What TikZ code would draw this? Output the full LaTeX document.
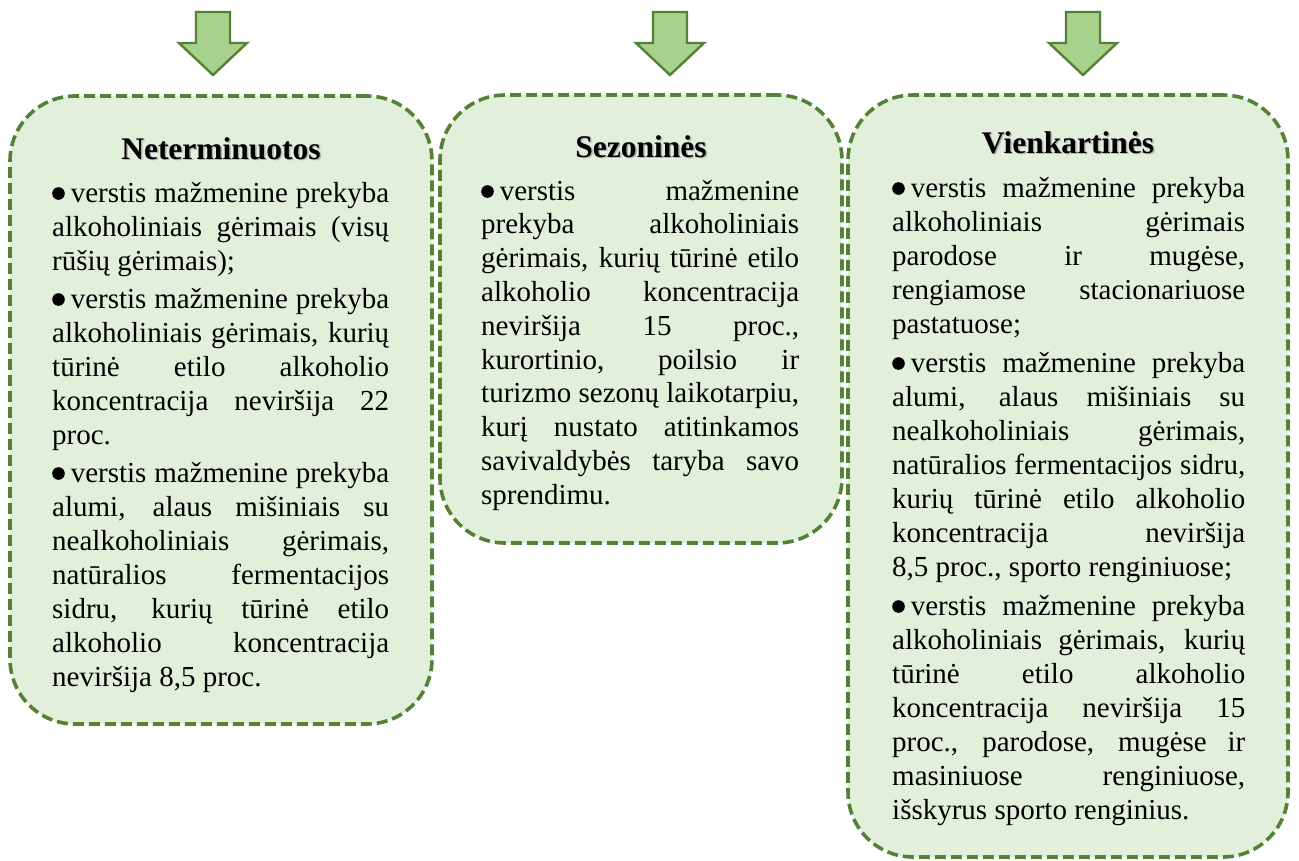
\documentclass[tikz,border=0pt]{standalone}
\usepackage{fontspec}
\setmainfont{Liberation Serif}
\definecolor{boxfill}{HTML}{E2EFDA}
\definecolor{boxline}{HTML}{548235}
\definecolor{arrowfill}{HTML}{A9D18E}
\newcommand\bul{\tikz[baseline=0pt]\fill[black] (6.5pt,8.5pt) circle (6.3pt);\hspace{6pt}}
\newcommand\jl[1]{\makebox[\linewidth][s]{#1}\par}
\tikzset{
  greenbox/.style={rectangle, draw=boxline, fill=boxfill, line width=3.6pt,
    dash pattern=on 11pt off 5pt, rounded corners=65pt, inner sep=0pt},
  arrowshape/.style={draw=boxline, fill=arrowfill, line width=2.4pt, line join=miter},
  downarrow/.pic={\path[arrowshape] (-17,0) -- (17,0) -- (17,31) -- (34,31) -- (0,63)
      -- (-34,31) -- (-17,31) -- cycle;},
  titletext/.style={anchor=base, inner sep=0pt, font=\fontsize{31.5}{36}\selectfont\bfseries},
  titleshadow/.style={titletext, text=black!30},
  bodytext/.style={anchor=base west, inner sep=0pt, font=\fontsize{29}{34}\selectfont},
}
\begin{document}
\begin{tikzpicture}[x=1pt,y=-1pt]
\useasboundingbox (0,0) rectangle (1299,860);
% arrows
\pic at (213,12) {downarrow};
\pic at (670,12) {downarrow};
\pic at (1083,12) {downarrow};
% boxes
\node[greenbox, minimum width=422, minimum height=628] (b1) at (221,410) {};
\node[greenbox, minimum width=402, minimum height=448] (b2) at (641,319) {};
\node[greenbox, minimum width=440, minimum height=762] (b3) at (1068,476) {};
% titles
\node[titleshadow] (t1s) at (222.5,160.5) {Neterminuotos};
\node[titletext] (t1) at (221,159) {Neterminuotos};
\node[titleshadow] (t2s) at (642.5,158.5) {Sezoninės};
\node[titletext] (t2) at (641,157) {Sezoninės};
\node[titleshadow] (t3s) at (1069.5,154.5) {Vienkartinės};
\node[titletext] (t3) at (1068,153) {Vienkartinės};
% body texts
\node[bodytext] (x1) at (52,202) {\parbox[t]{337pt}{%
\jl{\bul verstis mažmenine prekyba}
\jl{alkoholiniais gėrimais (visų}
rūšių gėrimais);\par
\vspace{4pt}
\jl{\bul verstis mažmenine prekyba}
\jl{alkoholiniais gėrimais, kurių}
\jl{tūrinė etilo alkoholio}
\jl{koncentracija neviršija 22}
proc.\par
\vspace{4pt}
\jl{\bul verstis mažmenine prekyba}
\jl{alumi, alaus mišiniais su}
\jl{nealkoholiniais gėrimais,}
\jl{natūralios fermentacijos}
\jl{sidru, kurių tūrinė etilo}
\jl{alkoholio koncentracija}
neviršija 8,5 proc.\par}};
\node[bodytext] (x2) at (481,200) {\parbox[t]{318pt}{\baselineskip=33.8pt
\jl{\bul verstis mažmenine}
\jl{prekyba alkoholiniais}
\jl{gėrimais, kurių tūrinė etilo}
\jl{alkoholio koncentracija}
\jl{neviršija 15 proc.,}
\jl{kurortinio, poilsio ir}
\jl{turizmo sezonų laikotarpiu,}
\jl{kurį nustato atitinkamos}
\jl{savivaldybės taryba savo}
sprendimu.\par}};
\node[bodytext] (x3) at (892,197) {\parbox[t]{353pt}{%
\jl{\bul verstis mažmenine prekyba}
\jl{alkoholiniais gėrimais}
\jl{parodose ir mugėse,}
\jl{rengiamose stacionariuose}
pastatuose;\par
\vspace{5pt}
\jl{\bul verstis mažmenine prekyba}
\jl{alumi, alaus mišiniais su}
\jl{nealkoholiniais gėrimais,}
\jl{natūralios fermentacijos sidru,}
\jl{kurių tūrinė etilo alkoholio}
\jl{koncentracija neviršija}
8,5 proc., sporto renginiuose;\par
\vspace{5pt}
\jl{\bul verstis mažmenine prekyba}
\jl{alkoholiniais gėrimais, kurių}
\jl{tūrinė etilo alkoholio}
\jl{koncentracija neviršija 15}
\jl{proc., parodose, mugėse ir}
\jl{masiniuose renginiuose,}
išskyrus sporto renginius.\par}};
\end{tikzpicture}
\end{document}
